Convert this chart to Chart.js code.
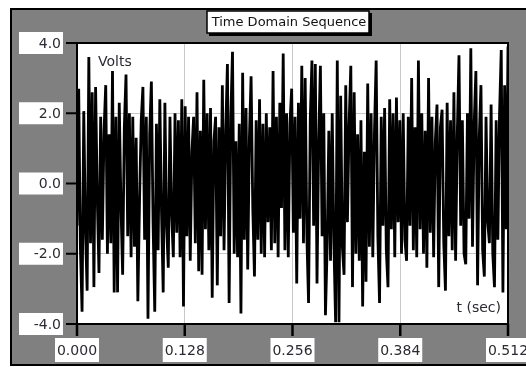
<!DOCTYPE html>
<html lang="en">
<head>
    <meta charset="UTF-8">
    <title>Time Domain Sequence</title>
    <script src="https://cdn.jsdelivr.net/npm/chart.js"></script>
    <style>
        body { margin: 0; padding: 0; background: #fff; }
        canvas { display: block; }
    </style>
</head>
<body>
    <canvas id="timeChart" width="526" height="367"></canvas>

    <script>
        // values
        const timeTicks = [0, 0.128, 0.256, 0.384, 0.512];
        const timeLabels = ["0.000", "0.128", "0.256", "0.384", "0.512"];
        const voltTicks = [-4, -2, 0, 2, 4];
        const voltLabels = ["-4.0", "-2.0", "0.0", "2.0", "4.0"];
        const volts = [
            -1.2, 2.7, -1.8, -3.65, 2.06, -1.3, -3.05, 3.6, -1.7, 2.6,
            -2.95, 2.75, -0.4, -2.55, 1.9, -1.6, 1.5, 2.8, -2.0, 1.4,
            -1.7, 3.2, -3.1, 1.9, -3.1, 2.3, -0.6, -2.6, 1.6, 3.1,
            -1.5, 2.0, -2.1, 1.9, -1.8, 1.3, -3.35, -0.5, 1.8, 2.75,
            -1.6, 1.9, -3.85, 1.4, 2.9, -1.1, -3.65, 1.7, -1.9, 2.4,
            -0.8, -3.1, 2.3, -1.2, -2.4, 1.9, -0.9, -2.1, 2.0, -1.4,
            1.8, -2.1, 2.4, -3.5, 2.2, -1.5, 1.9, -2.2, 0.9, 1.9,
            -1.7, 2.6, -2.5, 1.5, -2.6, 2.95, -1.3, 2.0, -1.9, 2.15,
            -3.25, 1.2, 1.9, -2.9, 1.6, -1.5, 2.8, -1.9, 1.5, 3.4,
            -3.4, 1.9, 3.75, -2.0, 1.2, -2.1, 1.7, -3.7, 3.15, -1.6,
            2.15, -2.45, 1.3, 3.05, -0.7, -2.65, 1.8, -1.6, 2.4, -2.0,
            1.7, -2.1, 2.0, -1.1, 1.6, -1.9, 3.2, -1.7, 1.9, -2.1,
            2.3, -0.7, 3.7, -1.9, 2.0, -2.1, 1.7, 2.7, -1.4, 1.9,
            -2.85, 2.3, -1.0, 3.35, -1.7, 3.0, -1.5, -3.4, 1.8, 3.5,
            -1.2, 3.4, -2.85, 1.2, 3.35, -1.5, 2.0, -3.75, -1.8, 1.5,
            -2.2, 2.0, -1.7, -3.95, 3.5, -3.95, 2.5, -1.8, -2.6, 2.8,
            -1.1, 1.7, 3.35, -2.95, 2.6, -2.0, 1.4, -2.2, 1.8, -3.5,
            0.9, -2.8, 2.85, -1.8, 2.0, -2.1, 1.5, 3.5, -1.5, -3.4,
            1.9, -1.2, 2.15, -1.9, -2.95, 2.4, -1.3, 2.0, -2.1, 2.45,
            -1.1, 1.8, -2.0, 2.0, -1.6, -2.2, 1.9, -1.2, 3.0, -1.9,
            1.6, -2.1, 3.5, -1.3, 2.0, -2.0, 1.5, -2.4, 3.0, -1.4,
            1.9, -2.1, 1.2, 2.25, -2.95, 1.6, 2.1, -1.7, -3.05, 2.3,
            -1.5, 1.8, -1.9, 2.6, -2.2, 1.4, 3.65, -1.2, 1.8, -2.0,
            -2.3, 2.0, -1.0, 3.85, -1.8, 1.7, 3.2, -2.9, 1.3, 2.8,
            -1.9, -2.65, 1.9, -1.1, -1.7, 2.25, -2.0, -2.95, 1.8, -1.6,
            2.0, 3.8, -3.1, 2.8, -1.3, 3.9
        ];
        const tEnd = 0.512;
        const points = volts.map((v, i) => ({ x: i * tEnd / (volts.length - 1), y: v }));

        const FONT = '"DejaVu Sans", sans-serif';

        function labelBox(ctx, x, y, w, h, text, align) {
            ctx.fillStyle = '#fff';
            ctx.fillRect(x, y, w, h);
            ctx.fillStyle = '#2a2a33';
            ctx.textBaseline = 'middle';
            ctx.textAlign = align;
            const tx = align === 'right' ? x + w - 2 : x + w / 2;
            ctx.fillText(text, tx, y + h / 2 + 1);
        }

        // grey panel, frame, ticks, label boxes and texts
        const panelPlugin = {
            id: 'panel',
            beforeDraw(chart) {
                const { ctx, chartArea: a } = chart;
                ctx.save();
                ctx.fillStyle = '#fff';
                ctx.fillRect(0, 0, chart.width, chart.height);
                ctx.fillStyle = '#808080';
                ctx.fillRect(11, 9, chart.width, 356);
                ctx.strokeStyle = '#000';
                ctx.lineWidth = 2;
                ctx.beginPath();
                ctx.moveTo(chart.width + 2, 9);
                ctx.lineTo(11, 9);
                ctx.lineTo(11, 365);
                ctx.lineTo(chart.width + 2, 365);
                ctx.stroke();
                ctx.fillStyle = '#fff';
                ctx.fillRect(a.left, a.top, a.right - a.left, a.bottom - a.top);
                ctx.restore();
            },
            afterDraw(chart) {
                const { ctx, chartArea: a } = chart;
                const xs = chart.scales.x, ys = chart.scales.y;
                ctx.save();
                // plot frame
                ctx.strokeStyle = '#000';
                ctx.lineWidth = 2;
                ctx.strokeRect(a.left, a.top, a.right - a.left, a.bottom - a.top);

                ctx.font = '14px ' + FONT;
                // y ticks
                voltTicks.forEach((v, i) => {
                    const y = ys.getPixelForValue(v);
                    ctx.strokeStyle = '#000';
                    ctx.lineWidth = 2;
                    ctx.beginPath();
                    ctx.moveTo(66, y);
                    ctx.lineTo(a.left, y);
                    ctx.stroke();
                    labelBox(ctx, 19, y - 11, 44, 22, voltLabels[i], 'right');
                });
                // x ticks
                timeTicks.forEach((t, i) => {
                    const x = xs.getPixelForValue(t);
                    ctx.strokeStyle = '#000';
                    ctx.lineWidth = 2.5;
                    ctx.beginPath();
                    ctx.moveTo(x, a.bottom);
                    ctx.lineTo(x, a.bottom + 12);
                    ctx.stroke();
                    labelBox(ctx, x - 22, 338, 44, 24, timeLabels[i], 'center');
                });

                // axis names inside the plot
                ctx.fillStyle = '#2a2a33';
                ctx.textBaseline = 'alphabetic';
                ctx.textAlign = 'left';
                ctx.fillText('Volts', 98, 66);
                ctx.textAlign = 'right';
                ctx.fillText('t (sec)', 501, 312);

                // title box
                ctx.fillStyle = '#000';
                ctx.fillRect(209, 13, 163, 23);
                ctx.fillStyle = '#fff';
                ctx.fillRect(207, 11, 162, 22);
                ctx.strokeStyle = '#000';
                ctx.lineWidth = 1.5;
                ctx.strokeRect(207, 11, 162, 22);
                ctx.fillStyle = '#111';
                ctx.font = '13px ' + FONT;
                ctx.textAlign = 'center';
                ctx.textBaseline = 'middle';
                ctx.fillText('Time Domain Sequence', 289, 23);
                ctx.restore();
            }
        };

        new Chart(document.getElementById('timeChart'), {
            type: 'line',
            data: {
                datasets: [{
                    data: points,
                    borderColor: '#000',
                    borderWidth: 2.8,
                    pointRadius: 0,
                    tension: 0
                }]
            },
            options: {
                responsive: false,
                animation: false,
                layout: { padding: { left: 77, right: 18, top: 43, bottom: 43 } },
                plugins: { legend: { display: false }, tooltip: { enabled: false } },
                scales: {
                    x: {
                        type: 'linear',
                        min: 0,
                        max: tEnd,
                        afterBuildTicks: s => { s.ticks = timeTicks.map(v => ({ value: v })); },
                        afterFit: s => { s.height = 0; },
                        ticks: { display: false },
                        grid: { color: '#c8c8c8', drawTicks: false },
                        border: { display: false }
                    },
                    y: {
                        min: -4,
                        max: 4,
                        afterBuildTicks: s => { s.ticks = voltTicks.map(v => ({ value: v })); },
                        afterFit: s => { s.width = 0; },
                        ticks: { display: false },
                        grid: { color: '#c8c8c8', drawTicks: false },
                        border: { display: false }
                    }
                }
            },
            plugins: [panelPlugin]
        });
    </script>
</body>
</html>
